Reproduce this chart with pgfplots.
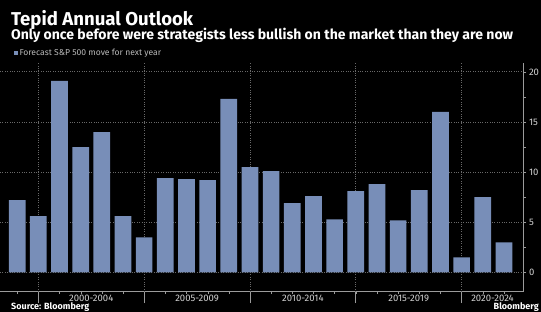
\documentclass[border=0pt]{standalone}
\usepackage{fontspec}
\setmainfont{Fira Sans}
\usepackage{graphicx}
\usepackage{pgfplots}
\pgfplotsset{compat=1.18}
\definecolor{barc}{RGB}{120,142,184}
\definecolor{axc}{RGB}{155,155,155}
\definecolor{gridc}{RGB}{105,105,105}
\definecolor{txtc}{RGB}{210,210,210}
\definecolor{legc}{RGB}{185,185,185}
\begin{document}
\begin{tikzpicture}[x=1pt,y=1pt]
\fill[black] (0,0) rectangle (541,312);
\useasboundingbox (0,0) rectangle (541,312);
\node[anchor=base west, text=white, inner sep=0pt] at (11,286) {\resizebox{182pt}{!}{\bfseries Tepid Annual Outlook}};
\node[anchor=base west, text=white, inner sep=0pt] at (11,272) {\resizebox{502pt}{!}{\bfseries Only once before were strategists less bullish on the market than they are now}};
\fill[barc] (14,257) rectangle (18.3,261.3);
\node[anchor=base west, text=legc, inner sep=0pt] at (19.3,256) {\resizebox{141.7pt}{!}{Forecast S\&P 500 move for next year}};
\node[anchor=south west, text=white, inner sep=0pt] at (11,0.3) {\fontsize{9}{10}\selectfont\bfseries Source: Bloomberg};
\node[anchor=south east, text=white, inner sep=0pt] at (539,0.3) {\fontsize{9}{10}\selectfont\bfseries Bloomberg};
\begin{axis}[
  at={(0,20.3)}, anchor=south west,
  scale only axis, width=523pt, height=229pt,
  xmin=1998.19, xmax=2022.9, ymin=-1.92, ymax=20.92,
  axis x line=bottom, axis y line=right,
  axis line style={axc, -, line width=0.8pt},
  ybar, bar width=0.79, bar shift=0pt,
  tick align=outside,
  major tick length=3.5pt, minor tick length=2.5pt,
  xtick={2002.5,2007.5,2012.5,2017.5,2021.46},
  xticklabels={2000-2004,2005-2009,2010-2014,2015-2019,2020-2024},
  major x tick style={draw=none},
  minor xtick={1999,...,2022},
  minor x tick style={axc},
  extra x ticks={2000,2005,2010,2015,2020},
  extra x tick labels={},
  extra x tick style={major tick length=11.6pt, xmajorgrids=true, major x tick style={draw=axc, solid, line width=0.8pt}},
  ytick={0,5,10,15,20},
  minor ytick={2.5,7.5,12.5,17.5},
  y tick style={axc},
  ymajorgrids=true,
  grid style={gridc, dotted, line width=0.8pt},
  /pgf/number format/assume math mode=true,
  tick label style={text=txtc, font=\fontsize{9.5}{11}\selectfont},
  xticklabel style={yshift=4pt},
  yticklabel style={xshift=-1pt},
]
\addplot[fill=barc, draw=none] coordinates {
(1999,7.2) (2000,5.6) (2001,19.1) (2002,12.5) (2003,14.0) (2004,5.6)
(2005,3.5) (2006,9.4) (2007,9.3) (2008,9.2) (2009,17.3) (2010,10.5)
(2011,10.1) (2012,6.9) (2013,7.6) (2014,5.3) (2015,8.1) (2016,8.8)
(2017,5.2) (2018,8.2) (2019,16.0) (2020,1.5) (2021,7.5) (2022,3.0)
};
\end{axis}
\end{tikzpicture}
\end{document}
